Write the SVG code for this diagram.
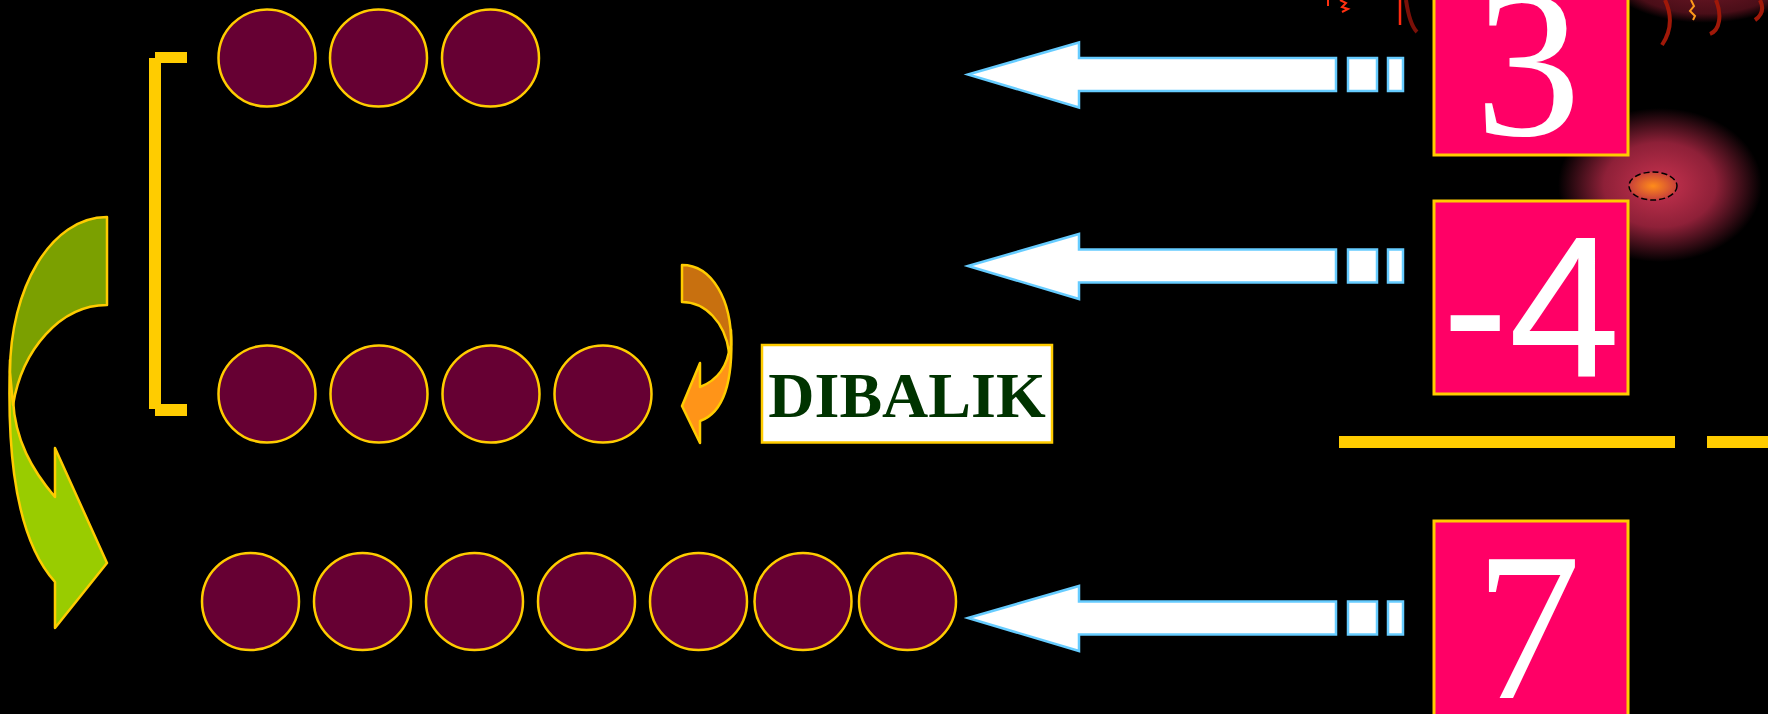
<svg xmlns="http://www.w3.org/2000/svg" width="1768" height="714" viewBox="0 0 1768 714">
<defs>
<style>
.dot{fill:#660033;stroke:#FFCC00;stroke-width:2.5}
.arr{fill:#FFFFFF;stroke:#66CCFF;stroke-width:2.5;stroke-linejoin:miter}
.box{fill:#FF0066;stroke:#FFCC00;stroke-width:3}
.num{fill:#FFFFFF;text-anchor:middle}
.gold{fill:#FFCC00}
.cv{stroke:#FFCC00;stroke-width:2.5;stroke-linejoin:round}
</style>
<g id="arrowShape">
<path class="arr" d="M968,0 L1079,-32 L1079,-16.5 L1336,-16.5 L1336,16.5 L1079,16.5 L1079,33 Z"/>
<rect class="arr" x="1348" y="-16.5" width="29" height="33"/>
<rect class="arr" x="1388" y="-16.5" width="15" height="33"/>
</g>
<radialGradient id="glow" cx="0.5" cy="0.5" r="0.5">
<stop offset="0" stop-color="#C8324F"/>
<stop offset="0.55" stop-color="#8E2038"/>
<stop offset="1" stop-color="#000000"/>
</radialGradient>
<radialGradient id="core" cx="0.5" cy="0.5" r="0.5">
<stop offset="0" stop-color="#FF8C1A"/>
<stop offset="1" stop-color="#C8403A"/>
</radialGradient>
<radialGradient id="topblob" cx="0.5" cy="0.2" r="0.6">
<stop offset="0" stop-color="#7A1A2A"/>
<stop offset="0.8" stop-color="#4A0E18"/>
<stop offset="1" stop-color="#000000"/>
</radialGradient>
</defs>
<rect x="0" y="0" width="1768" height="714" fill="#000000"/>

<g id="decorations">
<ellipse cx="1705" cy="0" rx="82" ry="38" fill="url(#topblob)"/>
<path d="M1665,0 C1672,15 1672,30 1662,45" fill="none" stroke="#A01808" stroke-width="4"/>
<path d="M1716,0 C1722,15 1720,30 1710,34" fill="none" stroke="#A01808" stroke-width="4"/>
<path d="M1760,0 C1764,8 1762,15 1755,20" fill="none" stroke="#A01808" stroke-width="4"/>
<path d="M1691,0 L1694,6 L1690,11 L1695,16 L1693,20" fill="none" stroke="#FF9A1A" stroke-width="2"/>
<path d="M1328,0 L1328,6" stroke="#FF3010" stroke-width="2"/>
<path d="M1340,0 L1346,3 L1342,7 L1348,9 L1342,12" fill="none" stroke="#FF3010" stroke-width="2"/>
<path d="M1400,0 L1400,25" stroke="#FF2A10" stroke-width="2.5"/>
<path d="M1406,0 C1408,14 1411,26 1417,32" fill="none" stroke="#7A1008" stroke-width="4"/>
<ellipse cx="1660" cy="185" rx="102" ry="77" fill="url(#glow)"/>
<ellipse cx="1653" cy="186" rx="24" ry="14" fill="url(#core)" stroke="#000000" stroke-width="1.5" stroke-dasharray="6 3"/>
</g>

<g id="bracket">
<rect class="gold" x="149" y="58" width="12" height="351"/>
<rect class="gold" x="155" y="52" width="32" height="11"/>
<rect class="gold" x="155" y="404" width="32" height="12"/>
</g>

<g id="row-top">
<circle class="dot" cx="267" cy="58" r="48.5"/>
<circle class="dot" cx="378.5" cy="58" r="48.5"/>
<circle class="dot" cx="490.5" cy="58" r="48.5"/>
</g>

<g id="row-middle">
<circle class="dot" cx="267" cy="394" r="48.5"/>
<circle class="dot" cx="379" cy="394" r="48.5"/>
<circle class="dot" cx="491" cy="394" r="48.5"/>
<circle class="dot" cx="603" cy="394" r="48.5"/>
</g>

<g id="row-bottom">
<circle class="dot" cx="250.5" cy="601.5" r="48.5"/>
<circle class="dot" cx="362.5" cy="601.5" r="48.5"/>
<circle class="dot" cx="474.5" cy="601.5" r="48.5"/>
<circle class="dot" cx="586.5" cy="601.5" r="48.5"/>
<circle class="dot" cx="698.5" cy="601.5" r="48.5"/>
<circle class="dot" cx="803" cy="601.5" r="48.5"/>
<circle class="dot" cx="907.5" cy="601.5" r="48.5"/>
</g>

<g id="green-curved-arrow">
<path class="cv" fill="#99CC00" d="M10,360 C8,420 8,530 55,582 L55,628 L107,563 L55,448 L55,497 C32,470 15,440 13,400 Z"/>
<path class="cv" fill="#7BA000" d="M107,217 C50,217 10,290 10,372 L13,405 C22,350 60,305 107,305 Z"/>
</g>

<g id="orange-curved-arrow">
<path class="cv" fill="#FF9418" d="M731,330 C734,390 720,414 700,421 L700,443 L682,406 L700,363 L700,387 C718,380 728,365 730,345 Z"/>
<path class="cv" fill="#C8700F" d="M682,265 C712,265 732,300 731,345 L729,352 C725,322 705,302 682,302 Z"/>
</g>

<g id="label-dibalik">
<rect x="762" y="345" width="290" height="97.5" fill="#FFFFFF" stroke="#FFCC00" stroke-width="2.5"/>
<text x="907" y="416.5" font-family="'Liberation Serif', 'Times New Roman', serif" font-weight="bold" font-size="64" fill="#003300" text-anchor="middle">DIBALIK</text>
</g>

<g id="connectors">
<use href="#arrowShape" transform="translate(0,74.5)"/>
<use href="#arrowShape" transform="translate(0,266)"/>
<use href="#arrowShape" transform="translate(0,618)"/>
</g>

<g id="box-3">
<rect class="box" x="1434" y="-40" width="194" height="195"/>
<text class="num" x="1528" y="135" font-family="'Liberation Serif', 'Times New Roman', serif" font-size="212">3</text>
</g>

<g id="box-minus4">
<rect class="box" x="1434" y="201" width="194" height="193"/>
<text class="num" x="1531" y="376" font-family="'Liberation Sans', Arial, sans-serif" font-size="201">-4</text>
</g>

<g id="sum-line">
<rect class="gold" x="1339" y="436" width="336" height="12"/>
<rect class="gold" x="1707" y="436" width="61" height="12"/>
</g>

<g id="box-7">
<rect class="box" x="1434" y="521" width="194" height="200"/>
<text class="num" x="1528" y="698" font-family="'Liberation Serif', 'Times New Roman', serif" font-size="212">7</text>
</g>
</svg>
